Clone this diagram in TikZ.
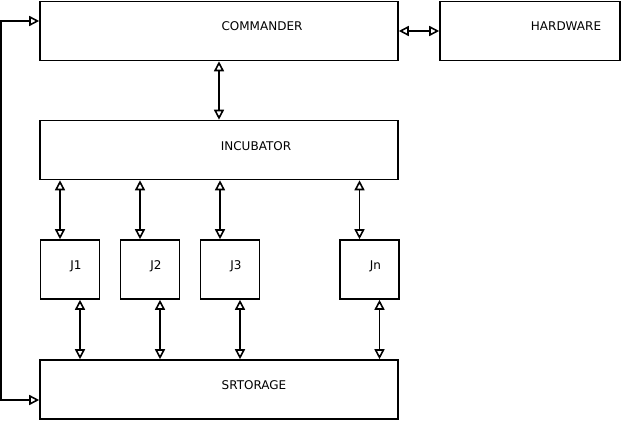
\documentclass[tikz,border=0pt]{standalone}
\usepackage{fontspec}
\setmainfont{DejaVu Sans}
\usetikzlibrary{arrows.meta}
\begin{document}
\begin{tikzpicture}[
        x=1pt, y=-1pt,
        font=\fontsize{12}{14}\selectfont,
        boxNode/.style={rectangle, draw, line width=1.6pt, inner sep=0pt},
        wideNode/.style={boxNode, minimum width=358pt, minimum height=59pt},
        jobNode/.style={boxNode, minimum width=59pt, minimum height=59pt},
        biArrow/.style={line width=1.6pt, {Triangle[open, length=10pt, width=10pt]}-{Triangle[open, length=10pt, width=10pt]}}
    ]
        \useasboundingbox (0,0) rectangle (621,422);

        % Main boxes
        \node[wideNode, label={[shift={(43pt,5pt)}]center:COMMANDER}] (cmd) at (219,31) {};
        \node[boxNode, minimum width=180pt, minimum height=59pt, label={[shift={(36pt,5pt)}]center:HARDWARE}] (hw) at (530,31) {};
        \node[wideNode, label={[shift={(37pt,4pt)}]center:INCUBATOR}] (inc) at (219,150) {};
        \node[wideNode, label={[shift={(35pt,4pt)}]center:SRTORAGE}] (sto) at (219,389.5) {};

        % Job boxes
        \node[jobNode, label={[shift={(6pt,3pt)}]center:J1}] (j1) at (70,269.5) {};
        \node[jobNode, label={[shift={(6pt,3pt)}]center:J2}] (j2) at (150,269.5) {};
        \node[jobNode, label={[shift={(6pt,3pt)}]center:J3}] (j3) at (230,269.5) {};
        \node[jobNode, label={[shift={(6pt,3pt)}]center:Jn}] (jn) at (369.5,269.5) {};

        % Edges
        \draw[biArrow] (cmd.east) -- (hw.west);
        \draw[biArrow] (cmd.south) -- (inc.north);
        \foreach \j in {j1, j2, j3, jn} {
            \draw[biArrow] ([xshift=-10pt]\j.north |- inc.south) -- ([xshift=-10pt]\j.north);
            \draw[biArrow] ([xshift=10pt]\j.south) -- ([xshift=10pt]\j.south |- sto.north);
        }
        \draw[biArrow] ([yshift=10pt]cmd.west) -- ++(-38,0) |- ([yshift=-10.5pt]sto.west);
    \end{tikzpicture}
\end{document}
